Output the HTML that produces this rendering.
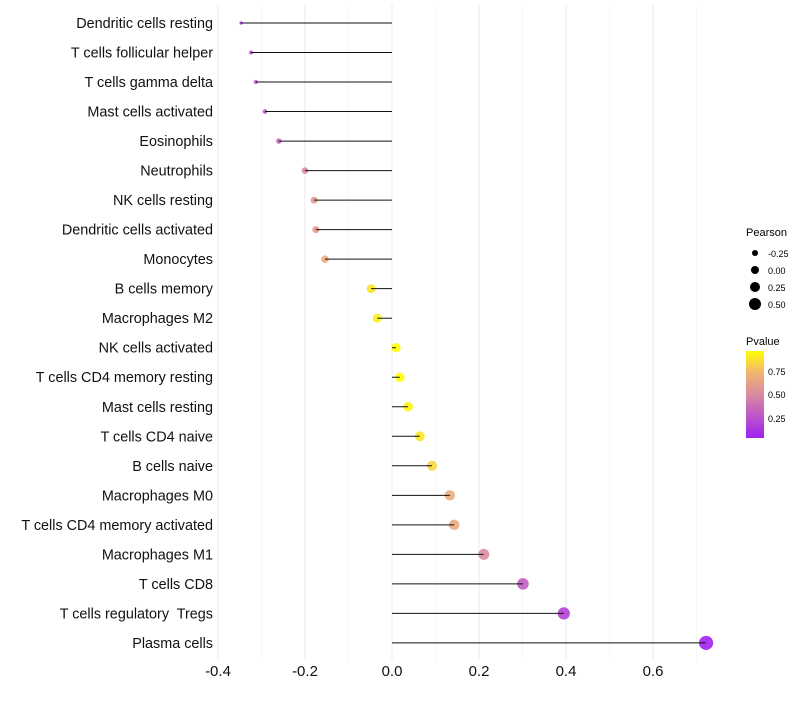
<!DOCTYPE html>
<html><head><meta charset="utf-8"><style>
body{margin:0;background:#fff;font-family:"Liberation Sans",sans-serif}
text{white-space:pre}
</style></head><body>
<svg id="chart" width="800" height="700" xmlns="http://www.w3.org/2000/svg">
<defs><linearGradient id="pg" x1="0" y1="1" x2="0" y2="0">
<stop offset="0" stop-color="#a020f0"/><stop offset="0.5" stop-color="#d98aa0"/><stop offset="0.75" stop-color="#f2b472"/><stop offset="1" stop-color="#ffff00"/></linearGradient></defs>
<g id="grid"></g><g id="points"></g><g id="stems"></g><g id="labels"></g>
<g font-size="10">
<text x="746" y="236" font-size="11">Pearson</text>
<circle cx="755" cy="253" r="3"/><text x="768" y="257" font-size="9">-0.25</text>
<circle cx="755" cy="270" r="4"/><text x="768" y="274" font-size="9">0.00</text>
<circle cx="755" cy="287" r="5"/><text x="768" y="291" font-size="9">0.25</text>
<circle cx="755" cy="304" r="6"/><text x="768" y="308" font-size="9">0.50</text>
<text x="746" y="345" font-size="11">Pvalue</text>
<rect x="746" y="351" width="18" height="87" fill="url(#pg)"/>
<text x="768" y="375" font-size="9">0.75</text><text x="768" y="398" font-size="9">0.50</text><text x="768" y="422" font-size="9">0.25</text>
</g>
</svg>
<script>
const cells=["Dendritic cells resting","T cells follicular helper","T cells gamma delta","Mast cells activated","Eosinophils","Neutrophils","NK cells resting","Dendritic cells activated","Monocytes","B cells memory","Macrophages M2","NK cells activated","T cells CD4 memory resting","Mast cells resting","T cells CD4 naive","B cells naive","Macrophages M0","T cells CD4 memory activated","Macrophages M1","T cells CD8","T cells regulatory  Tregs","Plasma cells"];
const pearson=[-0.347,-0.324,-0.313,-0.292,-0.260,-0.200,-0.179,-0.175,-0.154,-0.048,-0.034,0.009,0.018,0.037,0.064,0.092,0.133,0.143,0.211,0.301,0.395,0.722];
const pvals=[0.1,0.25,0.28,0.3,0.35,0.5,0.58,0.58,0.68,0.87,0.9,0.98,0.97,0.92,0.88,0.82,0.68,0.66,0.5,0.3,0.18,0.05];
const ticks=[-0.4,-0.2,0,0.2,0.4,0.6];
const minor=[-0.3,-0.1,0.1,0.3,0.5,0.7];
const NS="http://www.w3.org/2000/svg";
const xs=v=>392+v*435;
const ys=i=>23+i*29.52;
function col(p){const st=[[0,[160,32,240]],[0.5,[217,138,160]],[0.75,[242,180,114]],[1,[255,255,0]]];
 const t=Math.min(1,Math.max(0,(p-0.04)/0.91));
 for(let k=1;k<st.length;k++){if(t<=st[k][0]){const a=st[k-1],b=st[k],f=(t-a[0])/(b[0]-a[0]);
 return "rgb("+a[1].map((c,j)=>Math.round(c+(b[1][j]-c)*f)).join(",")+")";}}return "rgb(255,255,0)";}
function rad(v){const a=v<-0.05?20+59*(v+0.05):20+39*(v+0.05);return Math.sqrt(Math.max(2.2,a));}
function mk(tag,at,par){const e=document.createElementNS(NS,tag);for(const k in at)e.setAttribute(k,at[k]);document.getElementById(par).appendChild(e);return e;}
minor.forEach(v=>{const l=mk("line",{x1:xs(v),x2:xs(v),y1:5,y2:660,stroke:"#f2f2f2","stroke-width":0.6},"grid");

});
ticks.forEach(v=>{const l=mk("line",{x1:xs(v),x2:xs(v),y1:5,y2:660,stroke:"#e8e8e8","stroke-width":1},"grid");


const t=mk("text",{x:xs(v),y:676,"text-anchor":"middle","font-size":15,fill:"#111"},"labels");t.textContent=(v===0?"0.0":v.toFixed(1));

});
cells.forEach((c,i)=>{const y=ys(i),v=pearson[i];
const p=mk("circle",{cx:xs(v),cy:y,r:rad(v),fill:col(pvals[i]),"fill-opacity":0.9},"points");


const l=mk("line",{x1:xs(0),x2:xs(v),y1:y,y2:y,stroke:"#111","stroke-width":1},"stems");


const t=mk("text",{x:213,y:y+5,"text-anchor":"end","font-size":14.4,fill:"#111"},"labels");t.textContent=c;

});
</script>
</body></html>
